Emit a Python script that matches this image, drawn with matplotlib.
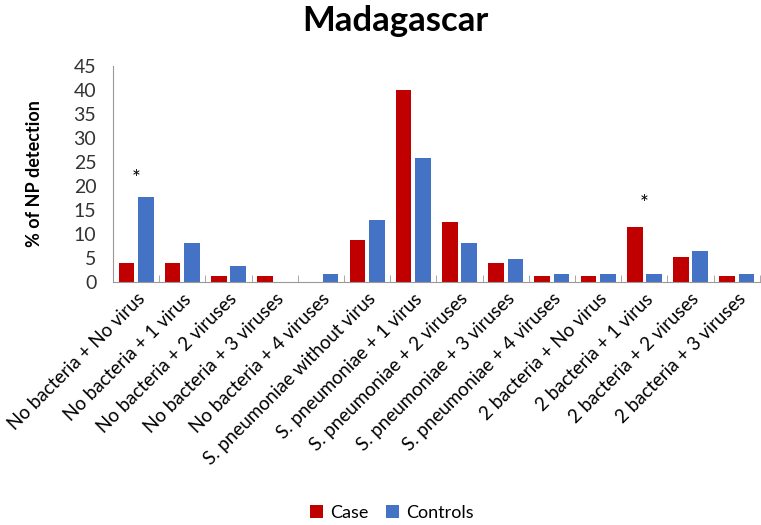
import numpy as np
import matplotlib.pyplot as plt

plt.rcParams['font.family'] = ['Lato', 'DejaVu Sans']

categories = [
    "No bacteria + No virus", "No bacteria + 1 virus", "No bacteria + 2 viruses",
    "No bacteria + 3 viruses", "No bacteria + 4 viruses", "S. pneumoniae without virus",
    "S. pneumoniae + 1 virus", "S. pneumoniae + 2 viruses", "S. pneumoniae + 3 viruses",
    "S. pneumoniae + 4 viruses", "2 bacteria + No virus", "2 bacteria + 1 virus",
    "2 bacteria + 2 viruses", "2 bacteria + 3 viruses",
]
case = [3.9, 3.9, 1.3, 1.3, 0, 8.7, 40.0, 12.4, 3.9, 1.3, 1.3, 11.4, 5.1, 1.3]
controls = [17.7, 8.1, 3.3, 0, 1.6, 12.9, 25.8, 8.1, 4.8, 1.6, 1.6, 1.6, 6.5, 1.6]
star_idx = [0, 11]
star_y = [21.5, 16.2]

fig = plt.figure(figsize=(7.61, 5.25), dpi=100)
ax = fig.add_axes([0.1485, 0.463, 0.85, 0.411])

x = np.arange(len(categories))
w = 0.34
ax.bar(x - 0.21, case, w, color="#C00000", label="Case")
ax.bar(x + 0.21, controls, w, color="#4472C4", label="Controls")

# significance markers
for i, yv in zip(star_idx, star_y):
    ax.text(i, yv, "*", ha="center", va="center", fontsize=15)

ax.set_xlim(-0.5, len(categories) - 0.5)
ax.set_ylim(0, 45)
ax.set_yticks(range(0, 46, 5))
ax.tick_params(axis="y", length=0, labelsize=14, colors="#333333", pad=12)
ax.set_xticks(x)
ax.set_xticklabels(categories, rotation=45, ha="right", rotation_mode="anchor", fontsize=13.5)
ax.tick_params(axis="x", length=0, pad=6)
ax.set_xticks(np.arange(-0.5, len(categories), 1), minor=True)
ax.tick_params(axis="x", which="minor", direction="in", length=5, color="#999999")

for s in ["top", "right"]:
    ax.spines[s].set_visible(False)
ax.spines["left"].set_color("#999999")
ax.spines["bottom"].set_color("#999999")

ax.set_ylabel("% of NP detection", fontsize=13, fontweight="bold", labelpad=22)
fig.text(0.52, 0.96, "Madagascar", ha="center", va="center", fontsize=25, fontweight="bold")

fig.legend(loc="center", bbox_to_anchor=(0.515, 0.023), ncol=2, frameon=False,
           fontsize=13, handlelength=0.7, handleheight=0.7, columnspacing=1.0, handletextpad=0.4)

fig.savefig("out.png", dpi=100)
